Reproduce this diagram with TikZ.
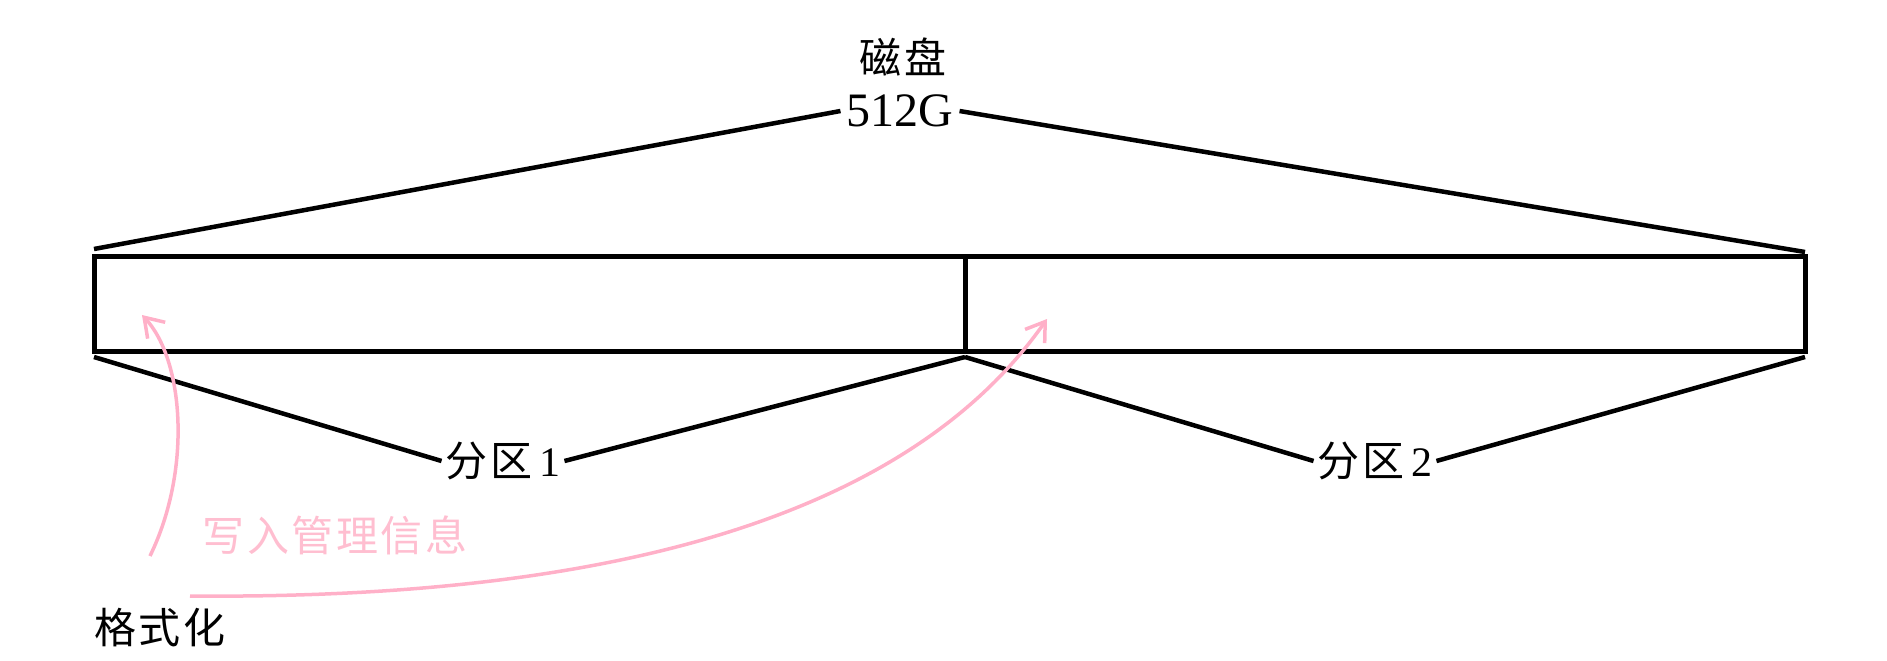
\documentclass[tikz,border=0pt]{standalone}
\usepackage{fontspec}
\setmainfont{Liberation Serif}
\newfontfamily\cjk[LetterSpace=6]{Noto Sans CJK SC}
\usetikzlibrary{arrows.meta}
\definecolor{pinkline}{RGB}{255,176,200}
\definecolor{pinktext}{RGB}{255,190,208}
\begin{document}
\begin{tikzpicture}[x=1pt,y=-1pt]
     \tikzstyle{every node}+=[inner sep=0pt, font=\fontsize{42}{46}\selectfont]
     \tikzstyle{frame}=[black, line width=5pt]
     \tikzstyle{fan}=[black, line width=4.5pt]
     \tikzstyle{note}=[pinkline, line width=3.5pt, -{Straight Barb[length=18pt,width=24pt,line width=3.5pt]}]
     \useasboundingbox (0,0) rectangle (1887,661);
     % disk with two partitions
     \draw [frame] (94,256) rectangle (1805,351);
     \draw [frame] (965,256) -- (965,351);
     \coordinate (tl) at (94,249);
     \coordinate (tr) at (1805,252);
     \coordinate (bl) at (94,357);
     \coordinate (bm) at (965,357);
     \coordinate (br) at (1805,357);
     % labels
     \node (disk) at (903,57) {\cjk 磁盘};
     \node [inner sep=6pt, font=\fontsize{48}{52}\selectfont] (size) at (900,111) {512G};
     \node [inner sep=4pt] (p1) at (503,461) {{\cjk 分区}\,1};
     \node [inner sep=4pt] (p2) at (1375,461) {{\cjk 分区}\,2};
     \node [text=pinktext] (info) at (335,535) {\cjk 写入管理信息};
     \node (fmt) at (160,628) {\cjk 格式化};
     \draw [fan] (tl) -- (size.west);
     \draw [fan] (size.east) -- (tr);
     \draw [fan] (bl) -- (p1.west);
     \draw [fan] (p1.east) -- (bm);
     \draw [fan] (bm) -- (p2.west);
     \draw [fan] (p2.east) -- (br);
     % format arrows
     \coordinate (s1) at (150,556);
     \coordinate (s2) at (190,596);
     \coordinate (t1) at (142,315);
     \coordinate (t2) at (1047,319);
     \draw [note] (s1) .. controls (192,470) and (184,360) .. (t1);
     \draw [note] (s2) .. controls (650,600) and (920,500) .. (t2);
\end{tikzpicture}
\end{document}
